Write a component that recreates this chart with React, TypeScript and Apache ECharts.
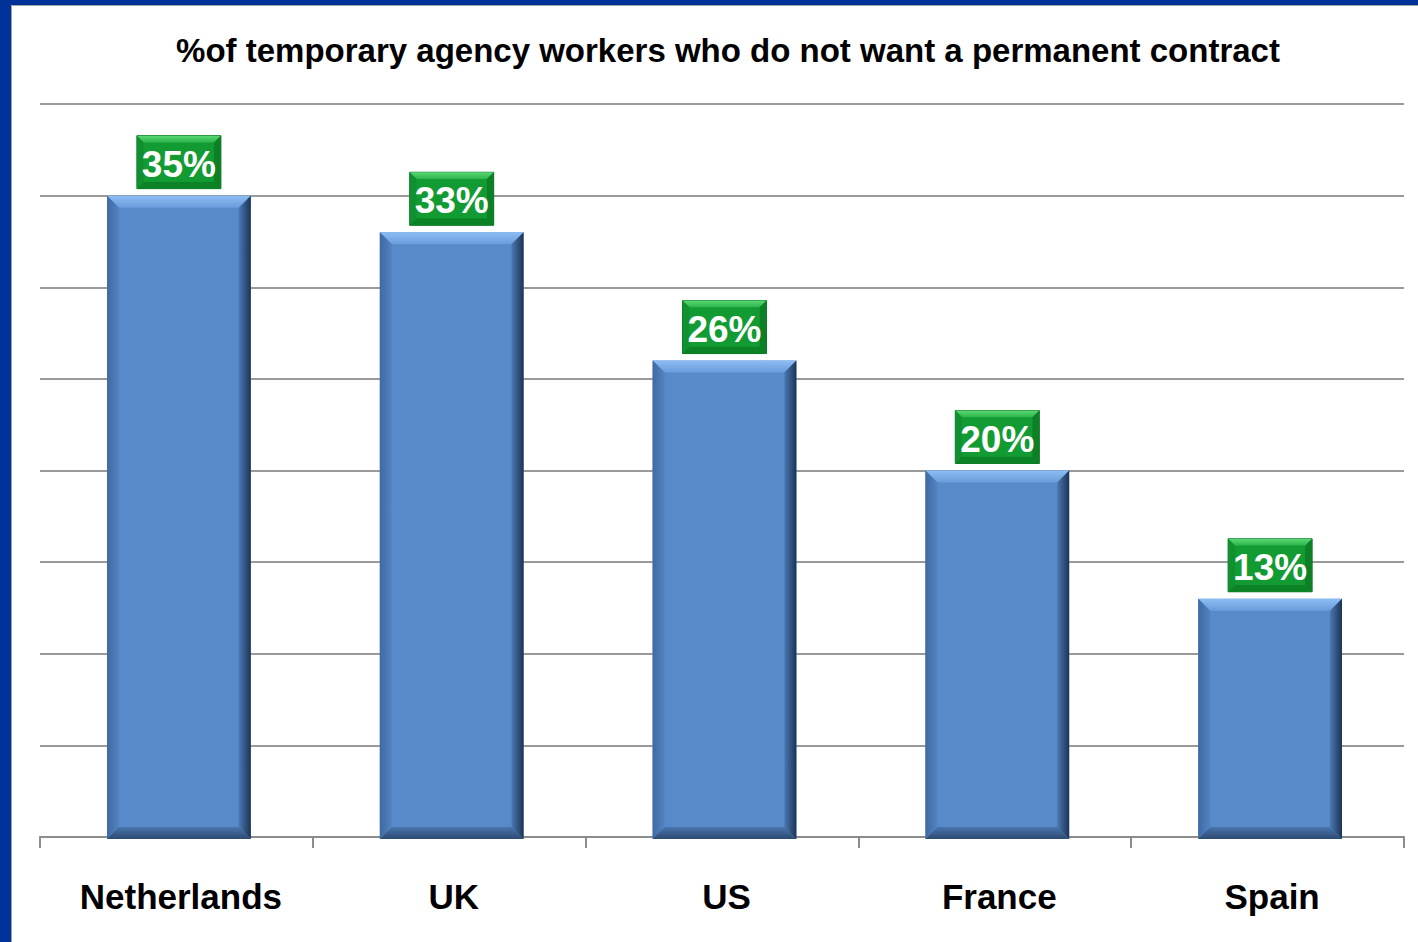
import React, { useEffect, useRef } from "react";
import * as echarts from "echarts";

const TITLE = "%of temporary agency workers who do not want a permanent contract";
const categories = ["Netherlands", "UK", "US", "France", "Spain"];
const values = [35, 33, 26, 20, 13];
const Y_MIN = 0;
const Y_MAX = 40;
const Y_INTERVAL = 5;

const FONT = "'Liberation Sans', Arial, sans-serif";

export default function App() {
  const ref = useRef<HTMLDivElement>(null);
  useEffect(() => {
    document.body.style.margin = "0";
    const chart = echarts.init(ref.current!, null, { renderer: "svg" });
    const lin = (stops: [number, string][], x2 = 0, y2 = 1) =>
      new echarts.graphic.LinearGradient(
        0,
        0,
        x2,
        y2,
        stops.map(([offset, color]) => ({ offset, color }))
      );
    chart.setOption({
      animation: false,
      backgroundColor: "#ffffff",
      graphic: [
        { type: "rect", left: 0, top: 0, shape: { width: 1418, height: 5 }, style: { fill: "#003399" }, z: 100 },
        { type: "rect", left: 0, top: 0, shape: { width: 11, height: 942 }, style: { fill: "#003399" }, z: 100 },
        { type: "line", shape: { x1: 11.5, y1: 5.5, x2: 11.5, y2: 942 }, style: { stroke: "#a0a0a0", lineWidth: 1 }, z: 100 },
        { type: "line", shape: { x1: 11.5, y1: 5.5, x2: 1418, y2: 5.5 }, style: { stroke: "#a0a0a0", lineWidth: 1 }, z: 100 },
      ],
      title: {
        text: TITLE,
        left: 723,
        textAlign: "center",
        top: 29,
        textStyle: { fontFamily: FONT, fontSize: 33, fontWeight: "bold", color: "#000" },
      },
      grid: { left: 40, right: 14, top: 104, bottom: 105, containLabel: false },
      xAxis: {
        type: "category",
        data: categories,
        boundaryGap: true,
        axisLine: { show: true, lineStyle: { color: "#8c8c8c", width: 2 } },
        axisTick: { show: true, length: 11, alignWithLabel: false, lineStyle: { color: "#8c8c8c", width: 2 } },
        axisLabel: {
          fontFamily: FONT,
          fontSize: 35,
          fontWeight: "bold",
          color: "#000",
          margin: 42,
          padding: [0, 0, 0, 9],
        },
      },
      yAxis: {
        type: "value",
        min: Y_MIN,
        max: Y_MAX,
        interval: Y_INTERVAL,
        axisLine: { show: false },
        axisTick: { show: false },
        axisLabel: { show: false },
        splitLine: { show: true, lineStyle: { color: "#9a9a9a", width: 2 } },
      },
      series: [
        {
          type: "custom",
          data: values.map((v, i) => [i, v]),
          encode: { x: 0, y: 1 },
          renderItem: (params: any, api: any) => {
            const v = api.value(1);
            const top = api.coord([api.value(0), v]);
            const base = api.coord([api.value(0), 0]);
            const cx = top[0] + 2.5;
            const bw = api.size([1, 0])[0] * 0.527;
            const x0 = cx - bw / 2;
            const x1 = cx + bw / 2;
            const y0 = top[1];
            const y1 = base[1] + 2;
            const b = 12;
            const lw = 84;
            const lh = 53;
            const lx = cx - lw / 2;
            const ly = y0 - 7 - lh;
            const lb = 7;
            return {
              type: "group",
              children: [
                { type: "rect", shape: { x: x0, y: y0, width: bw, height: y1 - y0 }, style: { fill: "#5889c8" } },
                {
                  type: "polygon",
                  shape: { points: [[x0, y0], [x1, y0], [x1 - b, y0 + b], [x0 + b, y0 + b]] },
                  style: { fill: lin([[0, "#8cbdf3"], [1, "#6b9cdb"]]) },
                },
                {
                  type: "polygon",
                  shape: { points: [[x0, y0], [x0 + b, y0 + b], [x0 + b, y1 - b], [x0, y1]] },
                  style: { fill: lin([[0, "#3f6aa3"], [1, "#5283c2"]], 1, 0) },
                },
                {
                  type: "polygon",
                  shape: { points: [[x1, y0], [x1, y1], [x1 - b, y1 - b], [x1 - b, y0 + b]] },
                  style: { fill: lin([[0, "#4a78b3"], [1, "#1c3455"]], 1, 0) },
                },
                {
                  type: "polygon",
                  shape: { points: [[x0, y1], [x1, y1], [x1 - b, y1 - b], [x0 + b, y1 - b]] },
                  style: { fill: lin([[0, "#4a75ad"], [1, "#2d4a72"]]) },
                },
                {
                  type: "rect",
                  shape: { x: lx, y: ly, width: lw, height: lh },
                  style: { fill: "#129a32", stroke: "#0b7424", lineWidth: 1 },
                },
                {
                  type: "polygon",
                  shape: { points: [[lx, ly], [lx + lw, ly], [lx + lw - lb, ly + lb], [lx + lb, ly + lb]] },
                  style: { fill: lin([[0, "#5ad874"], [1, "#2cb349"]]) },
                },
                {
                  type: "polygon",
                  shape: { points: [[lx, ly + lh], [lx + lw, ly + lh], [lx + lw - lb, ly + lh - lb], [lx + lb, ly + lh - lb]] },
                  style: { fill: "#0c8226" },
                },
                {
                  type: "polygon",
                  shape: { points: [[lx + lw, ly], [lx + lw, ly + lh], [lx + lw - lb, ly + lh - lb], [lx + lw - lb, ly + lb]] },
                  style: { fill: "#0d7f27" },
                },
                {
                  type: "polygon",
                  shape: { points: [[lx, ly], [lx, ly + lh], [lx + lb, ly + lh - lb], [lx + lb, ly + lb]] },
                  style: { fill: "#11902f" },
                },
                {
                  type: "rect",
                  shape: { x: lx + lb, y: ly + lb, width: lw - 2 * lb, height: lh - 2 * lb },
                  style: { fill: "#139b33" },
                },
                {
                  type: "text",
                  style: {
                    text: v + "%",
                    x: cx,
                    y: ly + lh / 2 + 2,
                    align: "center",
                    verticalAlign: "middle",
                    fill: "#ffffff",
                    font: "bold 37px " + FONT,
                  },
                },
              ],
            };
          },
        },
      ],
    });
    return () => chart.dispose();
  }, []);
  return <div ref={ref} style={{ position: "fixed", left: 0, top: 0, width: 1418, height: 942 }} />;
}
